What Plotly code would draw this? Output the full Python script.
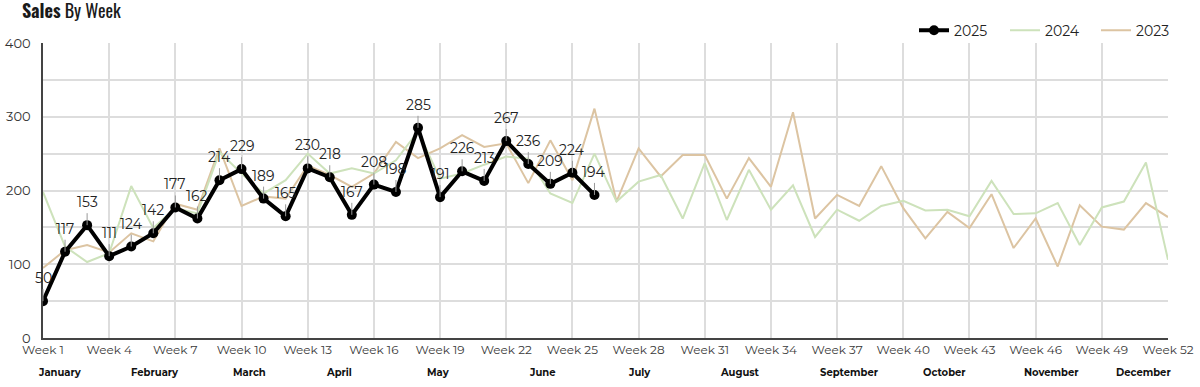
import plotly.graph_objects as go

weeks_2025 = list(range(1, 27))
sales_2025 = [50, 117, 153, 111, 124, 142, 177, 162, 214, 229, 189, 165, 230, 218, 167,
              208, 198, 285, 191, 226, 213, 267, 236, 209, 224, 194]

weeks_all = list(range(1, 53))
sales_2024 = [198, 124, 103, 115, 206, 149, 176, 169, 252, 223, 196, 214, 250, 223, 230,
              223, 241, 280, 216, 223, 235, 246, 243, 196, 183, 250, 185, 212, 221, 162,
              237, 160, 228, 174, 207, 137, 174, 159, 179, 186, 173, 174, 165, 213, 168,
              169, 183, 126, 177, 185, 238, 106]
sales_2023 = [95, 119, 126, 116, 142, 131, 182, 174, 257, 179, 192, 189, 234, 221, 205,
              223, 266, 244, 257, 275, 259, 264, 210, 268, 214, 311, 185, 257, 219, 248,
              248, 189, 244, 205, 306, 162, 194, 179, 233, 176, 135, 171, 149, 195, 122,
              162, 97, 180, 151, 147, 183, 164]

tick_weeks = list(range(1, 53, 3))
tick_labels = [f"Week {w}" for w in tick_weeks]

months = ["January", "February", "March", "April", "May", "June", "July",
          "August", "September", "October", "November", "December"]
month_pos = [1.75, 6.07, 10.38, 14.42, 18.95, 23.63, 28.02, 32.59, 37.56, 41.89, 46.74, 50.91]

body_font = "Montserrat, 'Noto Sans', 'Open Sans', sans-serif"
title_font = "Oswald, 'Liberation Sans Narrow', 'DejaVu Sans Condensed', 'Roboto', sans-serif"

fig = go.Figure()
fig.add_trace(go.Scatter(x=weeks_all, y=sales_2023, name="2023", mode="lines",
                         line=dict(color="#dcc4a2", width=2)))
fig.add_trace(go.Scatter(x=weeks_all, y=sales_2024, name="2024", mode="lines",
                         line=dict(color="#cde2bb", width=2)))
fig.add_trace(go.Scatter(x=weeks_2025, y=sales_2025, name="2025", mode="lines+markers",
                         line=dict(color="#000000", width=4),
                         marker=dict(color="#000000", size=10)))

annotations = []
for w, v in zip(weeks_2025, sales_2025):
    annotations.append(dict(x=w, y=v, xref="x", yref="y", text=str(v),
                            showarrow=True, arrowhead=0, arrowwidth=1, arrowcolor="#999999",
                            ax=0, ay=-12, yanchor="bottom", xanchor="center",
                            font=dict(family=body_font, size=14, color="#222222")))
for m, p in zip(months, month_pos):
    annotations.append(dict(x=p, y=-0.117, xref="x", yref="paper", text=f"<b>{m}</b>",
                            showarrow=False, xanchor="center", yanchor="middle",
                            font=dict(family=body_font, size=10, color="#111111")))

fig.update_layout(
    width=1200, height=387,
    margin=dict(l=43, r=32, t=43, b=49, autoexpand=False),
    paper_bgcolor="white", plot_bgcolor="white",
    title=dict(text="<b>Sales</b> By Week", x=22 / 1200, xanchor="left", xref="container",
               y=1 - 12 / 387, yanchor="middle", yref="container",
               font=dict(family=title_font, size=18, color="#1a1a1a")),
    legend=dict(orientation="h", x=(914 - 43) / 1125, xanchor="left", y=1.042, yanchor="middle",
                traceorder="reversed", font=dict(family=body_font, size=14, color="#222222"),
                itemwidth=30, entrywidth=46, entrywidthmode="pixels",
                bgcolor="rgba(0,0,0,0)"),
    annotations=annotations,
    showlegend=True,
)
fig.update_xaxes(range=[1, 52], tickvals=tick_weeks, ticktext=tick_labels, automargin=False,
                 showgrid=True, gridcolor="#dddddd", gridwidth=1.5,
                 showline=True, linecolor="#444444", linewidth=1.5,
                 zeroline=False, ticks="",
                 tickfont=dict(family=body_font, size=12, color="#3a3a3a"))
fig.update_yaxes(range=[0, 400], tickvals=[0, 100, 200, 300, 400], automargin=False,
                 showgrid=True, gridcolor="#dddddd", gridwidth=1.5,
                 minor=dict(dtick=50, showgrid=True, gridcolor="#dddddd", gridwidth=1.5),
                 showline=True, linecolor="#444444", linewidth=1.5,
                 zeroline=False, ticks="outside", ticklen=8, tickcolor="rgba(0,0,0,0)",
                 tickfont=dict(family=body_font, size=13, color="#333333"))

fig.write_html("out.html", config={"displayModeBar": False},
               post_script="document.body.style.margin='0';document.body.style.overflow='hidden';")
